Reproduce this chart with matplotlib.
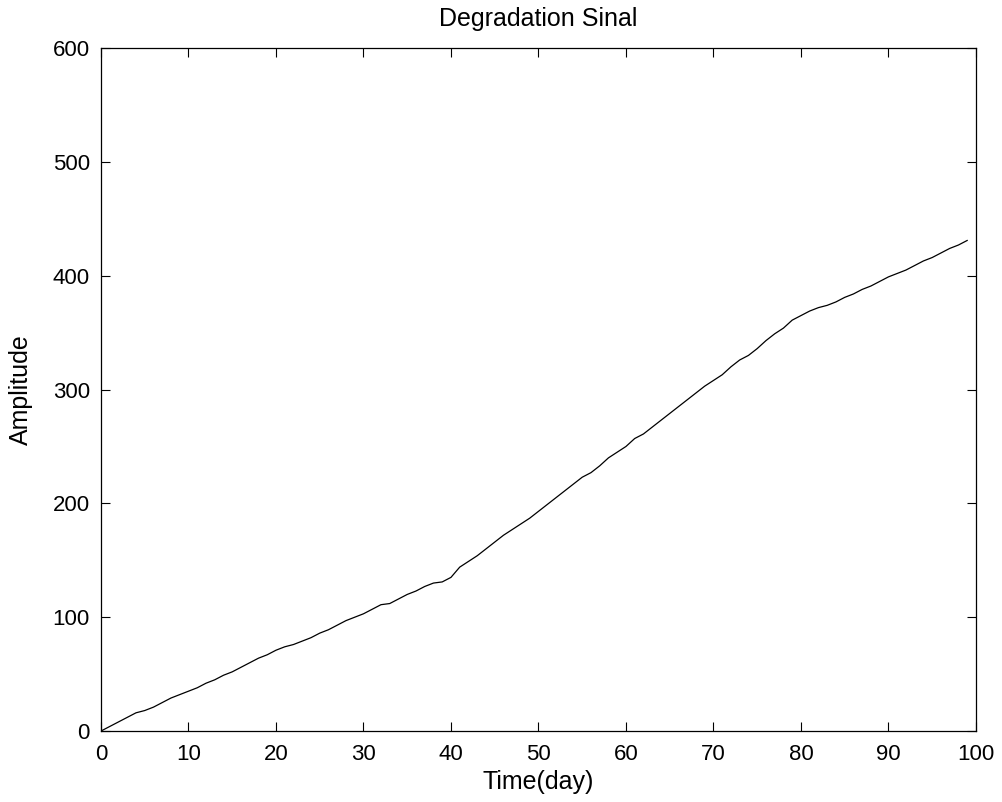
import matplotlib
matplotlib.use("Agg")
import matplotlib.pyplot as plt
import numpy as np

# Degradation signal, one value per day
days = np.arange(0, 100)
amplitude = [
    0, 4, 8, 12, 16, 18, 21, 25, 29, 32,
    35, 38, 42, 45, 49, 52, 56, 60, 64, 67,
    71, 74, 76, 79, 82, 86, 89, 93, 97, 100,
    103, 107, 111, 112, 116, 120, 123, 127, 130, 131,
    135, 144, 149, 154, 160, 166, 172, 177, 182, 187,
    193, 199, 205, 211, 217, 223, 227, 233, 240, 245,
    250, 257, 261, 267, 273, 279, 285, 291, 297, 303,
    308, 313, 320, 326, 330, 336, 343, 349, 354, 361,
    365, 369, 372, 374, 377, 381, 384, 388, 391, 395,
    399, 402, 405, 409, 413, 416, 420, 424, 427, 431,
]
x_ticks = [0, 10, 20, 30, 40, 50, 60, 70, 80, 90, 100]
y_ticks = [0, 100, 200, 300, 400, 500, 600]

plt.rcParams['font.family'] = ['Liberation Sans', 'DejaVu Sans']

fig = plt.figure(figsize=(10.03, 8.02), dpi=100)
ax = fig.add_axes([0.1007, 0.0885, 0.8723, 0.8515])

ax.plot(days, amplitude, color='black', linewidth=0.9)

ax.set_xlim(0, 100)
ax.set_ylim(0, 600)
ax.set_xticks(x_ticks)
ax.set_yticks(y_ticks)
ax.tick_params(direction='in', length=6.5, width=0.8, labelsize=16,
               top=True, right=True)
ax.tick_params(axis='x', pad=9)
ax.tick_params(axis='y', pad=8)
for s in ax.spines.values():
    s.set_linewidth(0.9)

ax.set_title('Degradation Sinal', fontsize=18, pad=16)
ax.set_xlabel('Time(day)', fontsize=18, labelpad=4)
ax.set_ylabel('Amplitude', fontsize=18, labelpad=14)

fig.savefig('out.png', dpi=100)
plt.close(fig)
